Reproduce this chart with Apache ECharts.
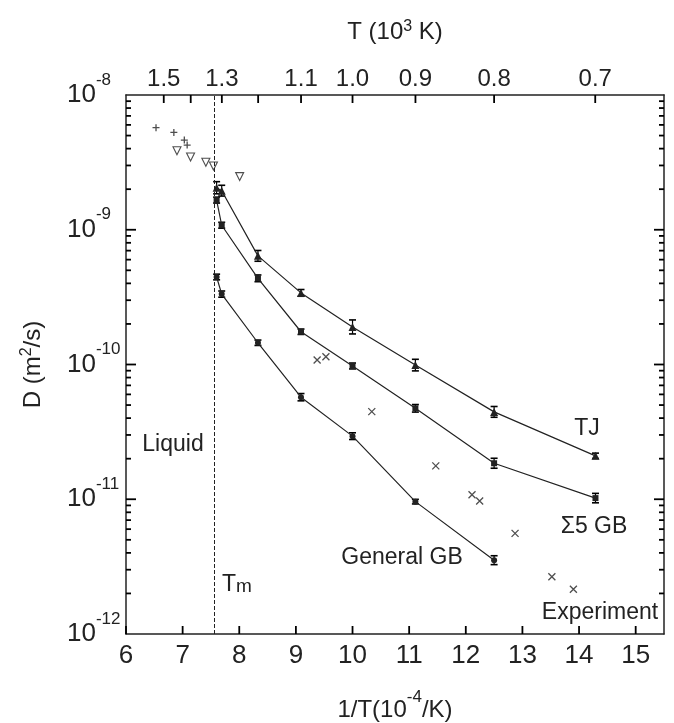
<!DOCTYPE html>
<html>
<head>
<meta charset="utf-8">
<script src="https://cdn.jsdelivr.net/npm/echarts@6/dist/echarts.min.js"></script>
<style>
html,body{margin:0;padding:0;background:#fff}
#mychart{width:674px;height:723px}
</style>
</head>
<body>
<div id="mychart"></div>
<script>
// TJ (triple junction)
var tjX = [7.60, 7.69, 8.33, 9.09, 10.0, 11.11, 12.5, 14.29];
var tjD = [2.05e-9, 1.95e-9, 6.4e-10, 3.4e-10, 1.9e-10, 9.9e-11, 4.45e-11, 2.1e-11];
var tjErr = [0.045, 0.04, 0.04, 0.025, 0.052, 0.043, 0.04, 0.02];
// Sigma5 GB
var s5X = [7.60, 7.69, 8.33, 9.09, 10.0, 11.11, 12.5, 14.29];
var s5D = [1.66e-9, 1.08e-9, 4.36e-10, 1.75e-10, 9.75e-11, 4.73e-11, 1.85e-11, 1.02e-11];
var s5Err = [0.022, 0.022, 0.025, 0.02, 0.022, 0.028, 0.037, 0.035];
// General GB
var genX = [7.60, 7.69, 8.33, 9.09, 10.0, 11.11, 12.5];
var genD = [4.46e-10, 3.33e-10, 1.45e-10, 5.72e-11, 2.94e-11, 9.6e-12, 3.53e-12];
var genErr = [0.021, 0.023, 0.02, 0.027, 0.025, 0.017, 0.033];
// experiment (x)
var expX = [9.375, 9.53, 10.34, 11.47, 12.11, 12.245, 12.87, 13.52, 13.9];
var expD = [1.08e-10, 1.14e-10, 4.47e-11, 1.77e-11, 1.08e-11, 9.7e-12, 5.58e-12, 2.66e-12, 2.15e-12];
// liquid (+ and open triangles)
var liqPlusX = [6.53, 6.845, 7.03, 7.08];
var liqPlusD = [5.72e-9, 5.28e-9, 4.63e-9, 4.25e-9];
var liqTriX = [6.90, 7.14, 7.41, 7.544, 8.007];
var liqTriD = [3.86e-9, 3.47e-9, 3.17e-9, 2.97e-9, 2.48e-9];
var tm = 7.55;

// axes
var xMin = 6, xMax = 15.5, yMin = 1e-12, yMax = 1e-8;
var xTicks = [6, 7, 8, 9, 10, 11, 12, 13, 14, 15];
var tTicks = [1.5, 1.4, 1.3, 1.2, 1.1, 1.0, 0.9, 0.8, 0.7];
var tLabels = [1.5, 1.3, 1.1, 1.0, 0.9, 0.8, 0.7];
var yDecades = [1e-11, 1e-10, 1e-9];

var FONT = '"Liberation Sans", Arial, sans-serif';
var INK = '#222';

var myChart = echarts.init(document.getElementById('mychart'));

function pairs(xs, ys) {
    return xs.map(function (x, i) { return [x, ys[i]]; });
}
function errData(xs, ys, es) {
    return xs.map(function (x, i) {
        return [x, ys[i] * Math.pow(10, -es[i]), ys[i] * Math.pow(10, es[i])];
    });
}
function seg(x1, y1, x2, y2, w) {
    return {type: 'line', shape: {x1: x1, y1: y1, x2: x2, y2: y2}, style: {stroke: '#000', lineWidth: w || 1.8}};
}
function renderErr(params, api) {
    var lo = api.coord([api.value(0), api.value(1)]);
    var hi = api.coord([api.value(0), api.value(2)]);
    var w = 3.5;
    return {
        type: 'group',
        children: [
            seg(lo[0], lo[1], hi[0], hi[1], 1.2),
            seg(lo[0] - w, lo[1], lo[0] + w, lo[1], 1.6),
            seg(hi[0] - w, hi[1], hi[0] + w, hi[1], 1.6)
        ]
    };
}

// inward ticks on the frame, placed through the axes' scales
function xTickRenderer(len, side) {
    return function (params, api) {
        var p = api.coord([api.value(0), side === 'bottom' ? yMin : yMax]);
        var dir = side === 'bottom' ? -1 : 1;
        return seg(p[0], p[1], p[0], p[1] + dir * len);
    };
}
function yTickRenderer(len) {
    return function (params, api) {
        var d = api.value(1);
        var l = api.coord([xMin, d]);
        var r = api.coord([xMax, d]);
        return {type: 'group', children: [
            seg(l[0], l[1], l[0] + len, l[1]),
            seg(r[0], r[1], r[0] - len, r[1])
        ]};
    };
}
function tickSeries(renderer, data) {
    return {type: 'custom', renderItem: renderer, data: data, encode: {x: 0, y: 1}};
}

// minor decade ticks (2..9 in each decade)
var minorVals = [];
for (var n = -12; n < -8; n++) {
    for (var k = 2; k <= 9; k++) minorVals.push(k * Math.pow(10, n));
}

var supRich = {
    b: {fontSize: 26, fontFamily: FONT, color: INK},
    s: {fontSize: 17, fontFamily: FONT, color: INK, padding: [0, 0, 30, 0]}
};

function lineSeries(name, xs, ys, symbol, size) {
    return {
        name: name, type: 'line', data: pairs(xs, ys),
        symbol: symbol, symbolSize: size,
        lineStyle: {color: INK, width: 1.2},
        itemStyle: {color: INK},
        z: 5
    };
}
function errSeries(xs, ys, es) {
    return {type: 'custom', renderItem: renderErr, data: errData(xs, ys, es), encode: {x: 0, y: [1, 2]}, z: 4, silent: true};
}

var option = {
    animation: false,
    backgroundColor: '#fff',
    grid: {left: 126, right: 10, top: 95, bottom: 89, containLabel: false, outerBoundsMode: 'none'},
    xAxis: [{
        type: 'value', min: xMin, max: xMax, position: 'bottom',
        axisLine: {lineStyle: {color: INK, width: 1.5}},
        axisTick: {show: false},
        axisLabel: {customValues: xTicks, margin: 9, fontSize: 26, fontFamily: FONT, color: INK},
        splitLine: {show: false},
        name: '1/T(10{s|-4}/K)', nameLocation: 'middle', nameGap: 55,
        nameTextStyle: {fontSize: 24, fontFamily: FONT, color: INK,
            rich: {s: {fontSize: 17, fontFamily: FONT, color: INK, padding: [0, 0, 26, 0]}}}
    }, {
        type: 'value', min: xMin, max: xMax, position: 'top',
        axisLine: {lineStyle: {color: INK, width: 1.5}},
        axisTick: {show: false},
        axisLabel: {customValues: tLabels.map(function (t) { return 10 / t; }), margin: 4, fontSize: 24, fontFamily: FONT, color: INK,
            formatter: function (v) { return (10 / v).toFixed(1); }},
        splitLine: {show: false},
        name: 'T (10{s|3} K)', nameLocation: 'middle', nameGap: 50,
        nameTextStyle: {fontSize: 24, fontFamily: FONT, color: INK,
            rich: {s: {fontSize: 16, fontFamily: FONT, color: INK, padding: [0, 0, 10, 0]}}}
    }],
    yAxis: [{
        type: 'log', logBase: 10, min: yMin, max: yMax, position: 'left',
        axisLine: {show: true, lineStyle: {color: INK, width: 1.5}},
        axisTick: {show: false},
        axisLabel: {margin: 59, align: 'left', rich: supRich,
            formatter: function (v) { return '{b|10}{s|' + Math.round(Math.log10(v)) + '}'; }},
        splitLine: {show: false},
        name: 'D (m{s|2}/s)', nameLocation: 'middle', nameGap: 79,
        nameTextStyle: {fontSize: 24, fontFamily: FONT, color: INK,
            rich: {s: {fontSize: 16, fontFamily: FONT, color: INK, padding: [0, 0, 12, 0]}}}
    }, {
        type: 'log', logBase: 10, min: yMin, max: yMax, position: 'right',
        axisLine: {show: true, lineStyle: {color: INK, width: 1.5}},
        axisTick: {show: false},
        axisLabel: {show: false},
        splitLine: {show: false}
    }],
    series: [
        tickSeries(xTickRenderer(8, 'bottom'), xTicks.map(function (x) { return [x, 1e-10]; })),
        tickSeries(xTickRenderer(8, 'top'), tTicks.map(function (t) { return [10 / t, 1e-10]; })),
        tickSeries(yTickRenderer(10), yDecades.map(function (d) { return [10, d]; })),
        tickSeries(yTickRenderer(5), minorVals.map(function (d) { return [10, d]; })),
        lineSeries('TJ', tjX, tjD, 'triangle', 8),
        lineSeries('Σ5 GB', s5X, s5D, 'rect', 6),
        lineSeries('General GB', genX, genD, 'circle', 6),
        errSeries(tjX, tjD, tjErr),
        errSeries(s5X, s5D, s5Err),
        errSeries(genX, genD, genErr),
        {
            name: 'Experiment', type: 'scatter', data: pairs(expX, expD),
            symbol: 'path://M0,0L10,10M10,0L0,10', symbolSize: 7,
            itemStyle: {color: 'none', borderColor: INK, borderWidth: 1.3}
        },
        {
            name: 'Liquid +', type: 'scatter', data: pairs(liqPlusX, liqPlusD),
            symbol: 'path://M5,0L5,10M0,5L10,5', symbolSize: 7,
            itemStyle: {color: 'none', borderColor: INK, borderWidth: 1.3},
            markLine: {
                silent: true, symbol: ['none', 'none'], label: {show: false},
                lineStyle: {color: INK, type: [4, 2], width: 1},
                data: [{xAxis: tm}]
            }
        },
        {
            name: 'Liquid tri', type: 'scatter', data: pairs(liqTriX, liqTriD),
            symbol: 'triangle', symbolRotate: 180, symbolSize: 8,
            itemStyle: {color: '#fff', borderColor: INK, borderWidth: 1.1}
        }
    ],
    graphic: [
        {type: 'text', x: 173, y: 445, style: {text: 'Liquid', fontSize: 23, fontFamily: FONT, fill: INK, align: 'center', verticalAlign: 'middle'}},
        {type: 'text', x: 587, y: 429, style: {text: 'TJ', fontSize: 23, fontFamily: FONT, fill: INK, align: 'center', verticalAlign: 'middle'}},
        {type: 'text', x: 594, y: 527, style: {text: 'Σ5 GB', fontSize: 23, fontFamily: FONT, fill: INK, align: 'center', verticalAlign: 'middle'}},
        {type: 'text', x: 402, y: 558, style: {text: 'General GB', fontSize: 23, fontFamily: FONT, fill: INK, align: 'center', verticalAlign: 'middle'}},
        {type: 'text', x: 600, y: 613, style: {text: 'Experiment', fontSize: 23, fontFamily: FONT, fill: INK, align: 'center', verticalAlign: 'middle'}},
        {type: 'text', x: 222, y: 585, style: {text: 'T{m|m}', fontSize: 23, fontFamily: FONT, fill: INK, align: 'left', verticalAlign: 'middle',
            rich: {m: {fontSize: 19, fontFamily: FONT, fill: INK, padding: [3, 0, 0, 0]}}}}
    ]
};

if (option && typeof option === "object") {
    myChart.setOption(option, true);
}
</script>
</body>
</html>
